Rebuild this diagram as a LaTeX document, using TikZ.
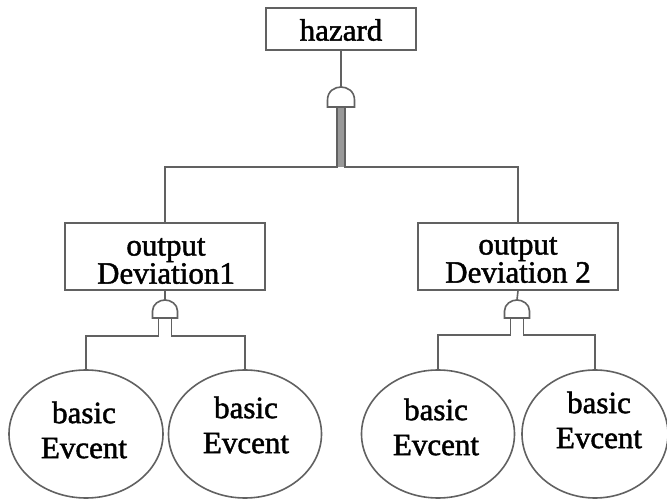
\documentclass[tikz,border=0pt]{standalone}
\usepackage{fontspec}
\setmainfont[FakeBold=1.5]{Liberation Serif}
\usetikzlibrary{shapes.geometric}

% AND gate: centre x, apex y, base y, half width
\newcommand\andgate[4]{%
  \filldraw[ln,fill=white] (#1-#4,#3) -- (#1-#4,#3-7)
    .. controls (#1-#4,#2+4) and (#1-#4*0.45,#2) .. (#1,#2)
    .. controls (#1+#4*0.45,#2) and (#1+#4,#2+4) .. (#1+#4,#3-7)
    -- (#1+#4,#3) -- cycle;}

\begin{document}
\begin{tikzpicture}[x=1pt,y=-1pt,
  ln/.style={draw=black!62,line width=1.6pt},
  evbox/.style={ln,rectangle,fill=white,inner sep=0pt},
  basicev/.style={ln,ellipse,fill=white,inner sep=0pt,minimum height=128pt},
  boxtext/.style={align=center,inner sep=0pt,font=\fontsize{31}{26}\selectfont},
  evtext/.style={align=center,inner sep=0pt,font=\fontsize{31}{35}\selectfont}]
\useasboundingbox (0,0) rectangle (667,502);

% events
\node[evbox,minimum width=150pt,minimum height=42pt] (haz) at (341,29) {};
\node[evbox,minimum width=200pt,minimum height=67pt] (dev1) at (165,256.5) {};
\node[evbox,minimum width=200pt,minimum height=67pt] (dev2) at (518,256.5) {};
\node[boxtext] (haztext) at (341,30) {hazard};
\node[boxtext] (dev1text) at (166,261) {output\\Deviation1};
\node[boxtext] (dev2text) at (518,260) {output\\Deviation 2};

\node[basicev,minimum width=154pt] (e1) at (86,434) {};
\node[basicev,minimum width=153pt] (e2) at (245,434) {};
\node[basicev,minimum width=153pt] (e3) at (438,434) {};
\node[basicev,minimum width=146pt] (e4) at (595,434) {};

\node[evtext] (t1) at (84,430) {basic\\Evcent};
\node[evtext] (t2) at (246,425) {basic\\Evcent};
\node[evtext] (t3) at (436,427) {basic\\Evcent};
\node[evtext] (t4) at (599,420) {basic\\Evcent};

% gate under the hazard
\coordinate (g0) at (341,87);
\coordinate (g0l) at (337,107);
\coordinate (g0r) at (345,107);
\coordinate (j0l) at (337,167);
\coordinate (j0r) at (345,167);
\fill[black!40] (g0l) rectangle (j0r);
\draw[ln] (haz.south) -- (g0);
\draw[ln] (dev1.north) |- (j0l) -- (g0l);
\draw[ln] (dev2.north) |- (j0r) -- (g0r);
\andgate{341}{87}{107}{13.5}

% gate under Deviation1
\coordinate (g1) at (165,300);
\coordinate (g1l) at (158.5,318);
\coordinate (g1r) at (171.5,318);
\coordinate (j1l) at (158.5,336);
\coordinate (j1r) at (171.5,336);
\draw[ln] (dev1.south) -- (g1);
\draw[ln] (e1.north) |- (j1l) -- (g1l);
\draw[ln] (e2.north) |- (j1r) -- (g1r);
\andgate{165}{300}{318}{12.5}

% gate under Deviation 2
\coordinate (g2) at (517,300);
\coordinate (g2l) at (510.5,318);
\coordinate (g2r) at (523.5,318);
\coordinate (j2l) at (510.5,335);
\coordinate (j2r) at (523.5,335);
\draw[ln] (dev2.south) -- (g2);
\draw[ln] (e3.north) |- (j2l) -- (g2l);
\draw[ln] (e4.north) |- (j2r) -- (g2r);
\andgate{517}{300}{318}{12.5}
\end{tikzpicture}
\end{document}
